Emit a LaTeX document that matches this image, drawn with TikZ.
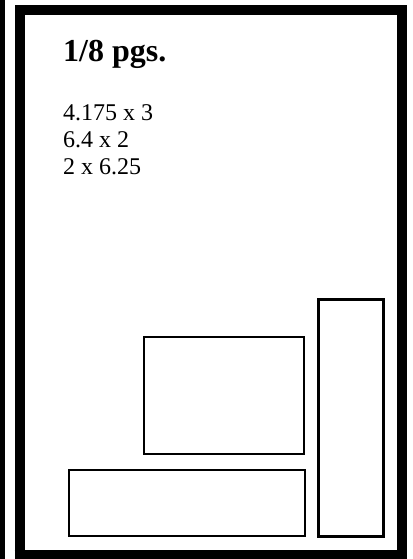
\documentclass[tikz,border=0pt]{standalone}
\usepackage{fontspec}
\setmainfont{Liberation Serif}
\usetikzlibrary{positioning}
\tikzset{
    frame/.style = {draw, line width=10pt},
    adbox/.style = {draw, line width=2.4pt},
    title/.style = {font=\fontsize{32}{36}\selectfont\bfseries, inner sep=0pt},
    sizes/.style = {font=\fontsize{24}{27}\selectfont, align=left, inner sep=0pt}
}

\begin{document}
\begin{tikzpicture}[x=1pt, y=1pt]
        \useasboundingbox (0,0) rectangle (412,559);
        % Neighbour strip and page frame
        \fill (0,0) rectangle (5,559);
        \draw [frame] (19.5,-5) -- (19.5,548.5) -- (401.5,548.5) -- (401.5,-5);
        \draw [frame] (14.5,4) -- (406.5,4);

        % Heading & Sizes
        \node [title, anchor=base west] (heading) at (63,497) {1/8 pgs.};
        \node [sizes, anchor=base west] (sizes) at (63,384) {4.175 x 3\\6.4 x 2\\2 x 6.25};

        % Ad Boxes
        \draw [adbox] (318.5,22.5) rectangle (383.5,259.5);
        \draw [adbox] (144,105) rectangle (304,222);
        \draw [adbox] (69,23) rectangle (305,89);

    \end{tikzpicture}
\end{document}
